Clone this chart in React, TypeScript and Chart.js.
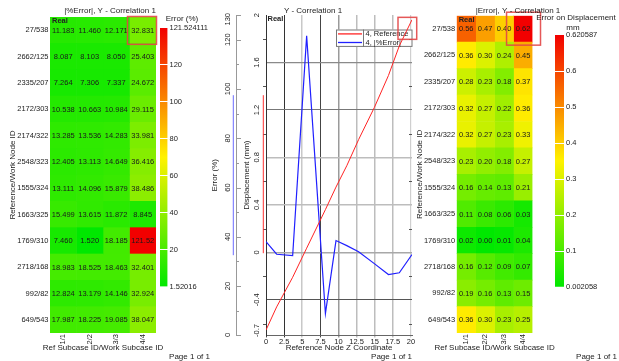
import React, { useEffect, useRef } from "react";
import { Chart, registerables } from "chart.js";

Chart.register(...registerables);

const FONT = "'Liberation Sans', Arial, Helvetica, sans-serif";
Chart.defaults.font.family = FONT;
Chart.defaults.font.size = 7.5;
Chart.defaults.color = "#222";

// ---------------- data ----------------
const rowLabels = [
  "27/538", "2662/125", "2335/207", "2172/303", "2174/322", "2548/323",
  "1555/324", "1663/325", "1769/310", "2718/168", "992/82", "649/543",
];
const colLabels = ["1/1", "2/2", "3/3", "4/4"];

// |%Error| per subcase (rows in rowLabels order)
const pctErr11 = [11.183, 8.087, 7.264, 10.538, 13.285, 12.405, 13.111, 15.499, 7.46, 18.983, 12.824, 17.987];
const pctErr22 = [11.46, 8.103, 7.306, 10.663, 13.536, 13.113, 14.096, 13.615, 1.52016, 18.525, 13.179, 18.225];
const pctErr33 = [12.171, 8.05, 7.337, 10.984, 14.283, 14.649, 15.879, 11.872, 18.185, 18.463, 14.146, 19.085];
const pctErr44 = [32.831, 25.403, 24.672, 29.115, 33.981, 36.416, 38.486, 8.845, 121.524111, 32.401, 32.924, 38.047];

// |Error| (mm) per subcase
const absErr11 = [0.56, 0.36, 0.28, 0.32, 0.32, 0.23, 0.16, 0.11, 0.02, 0.16, 0.19, 0.36];
const absErr22 = [0.47, 0.3, 0.23, 0.27, 0.27, 0.2, 0.14, 0.08, 0.002058, 0.12, 0.16, 0.3];
const absErr33 = [0.4, 0.24, 0.18, 0.22, 0.23, 0.18, 0.13, 0.06, 0.01, 0.09, 0.13, 0.23];
const absErr44 = [0.620587, 0.45, 0.37, 0.36, 0.33, 0.27, 0.21, 0.03, 0.04, 0.07, 0.15, 0.25];

// colour bar band limits
const pctBandTicks = [1.52016, 20, 40, 60, 80, 100, 120, 121.524111];
const absBandTicks = [0.002058, 0.1, 0.2, 0.3, 0.4, 0.5, 0.6, 0.620587];

// line chart (subcase 4) sorted by Z
const nodeZ = [0, 1.47, 3.68, 5.61, 8.2, 9.66, 11.15, 12.78, 14.95, 16.9, 18.4, 20.15];
const refDisp4 = [-0.655, -0.46, -0.21, 0.035, 0.36, 0.55, 0.73, 0.95, 1.22, 1.49, 1.74, 1.96];
const pctErrByZ4 = [38.047, 32.924, 32.401, 121.524111, 8.845, 38.486, 36.416, 33.981, 29.115, 24.672, 25.403, 32.831];

const zTicks = [0, 2.5, 5, 7.5, 10, 12.5, 15, 17.5, 20];
const errTicks = [0, 20, 40, 60, 80, 100, 120, 130];
const errMinor = [10, 30, 50, 70, 90, 110];
const dispTicks = [-0.7, -0.4, 0, 0.4, 0.8, 1.2, 1.6, 2];
const dispMinor = [-0.6, -0.2, 0.2, 0.6, 1.0, 1.4, 1.8];

// ---------------- helpers ----------------
const RAMP: [number, number[]][] = [
  [0, [0, 232, 0]],
  [0.5, [255, 242, 0]],
  [1, [242, 0, 0]],
];
function ramp(t: number) {
  t = Math.max(0, Math.min(1, t));
  for (let i = 0; i < RAMP.length - 1; i++) {
    const [t0, c0] = RAMP[i];
    const [t1, c1] = RAMP[i + 1];
    if (t <= t1) {
      const f = (t - t0) / (t1 - t0);
      const c = c0.map((v, k) => Math.round(v + (c1[k] - v) * f));
      return `rgb(${c[0]},${c[1]},${c[2]})`;
    }
  }
  return "rgb(242,0,0)";
}
function bandPos(v: number, bands: number[]) {
  const n = bands.length - 1;
  for (let i = 0; i < n; i++) {
    if (v <= bands[i + 1] || i === n - 1) {
      const f = Math.max(0, Math.min(1, (v - bands[i]) / (bands[i + 1] - bands[i])));
      return (i + f) / n;
    }
  }
  return 1;
}

function txt(
  ctx: CanvasRenderingContext2D,
  s: string,
  x: number,
  y: number,
  o: { size?: number; bold?: boolean; align?: CanvasTextAlign; color?: string; rot?: number } = {}
) {
  ctx.save();
  ctx.font = `${o.bold ? "bold " : ""}${o.size ?? 8}px ${FONT}`;
  ctx.fillStyle = o.color ?? "#222";
  ctx.textAlign = o.align ?? "left";
  ctx.textBaseline = "middle";
  ctx.translate(x, y);
  if (o.rot) ctx.rotate(o.rot);
  ctx.fillText(s, 0, 0);
  ctx.restore();
}

function redBox(ctx: CanvasRenderingContext2D, l: number, t: number, r: number, b: number) {
  ctx.save();
  ctx.strokeStyle = "rgba(226,70,70,0.9)";
  ctx.lineWidth = 1.5;
  ctx.strokeRect(l, t, r - l, b - t);
  ctx.restore();
}

// ---------------- heatmap ----------------
function heatmapConfig(o: {
  columns: number[][];
  bands: number[];
  fmt: (v: number) => string;
  pad: { left: number; right: number; top: number; bottom: number };
  yWidth: number;
  xHeight: number;
  yTitlePad: number;
  title: string;
  titleX: number;
  box: { l: number; t: number; r: number; b: number };
  pageRight: number;
}): any {
  return {
    type: "bar",
    data: {
      labels: rowLabels,
      datasets: o.columns.map((vals, c) => ({
        label: colLabels[c],
        data: rowLabels.map(() => [c, c + 1]),
        backgroundColor: vals.map((v) => ramp(bandPos(v, o.bands))),
        borderWidth: 0,
        barPercentage: 1,
        categoryPercentage: 1,
        grouped: false,
      })),
    },
    options: {
      indexAxis: "y",
      animation: false,
      responsive: false,
      devicePixelRatio: 1,
      layout: { padding: o.pad },
      plugins: { legend: { display: false }, tooltip: { enabled: false }, title: { display: false } },
      scales: {
        x: {
          type: "linear",
          min: 0,
          max: colLabels.length,
          afterBuildTicks: (s: any) => {
            s.ticks = colLabels.map((_, i) => ({ value: i + 0.5 }));
          },
          afterFit: (s: any) => {
            s.height = o.xHeight;
          },
          ticks: {
            autoSkip: false,
            minRotation: 90,
            maxRotation: 90,
            padding: 1,
            color: "#222",
            callback: (_v: any, i: number) => colLabels[i],
          },
          grid: { display: false, drawTicks: false },
          border: { display: false },
          title: { display: false },
        },
        y: {
          type: "category",
          afterFit: (s: any) => {
            s.width = o.yWidth;
          },
          ticks: { padding: 1.5, color: "#222" },
          grid: { display: false, drawTicks: false },
          border: { display: false },
          title: {
            display: true,
            text: "Reference/Work Node ID",
            font: { size: 8 },
            color: "#222",
            padding: { top: o.yTitlePad, bottom: 0 },
          },
        },
      },
    },
    plugins: [
      {
        id: "heatExtras",
        afterDatasetsDraw(chart: any) {
          const ctx = chart.ctx as CanvasRenderingContext2D;
          o.columns.forEach((vals, c) => {
            const meta = chart.getDatasetMeta(c);
            meta.data.forEach((el: any, r: number) => {
              const p = el.getProps(["x", "y", "base"], true);
              txt(ctx, o.fmt(vals[r]), (p.x + p.base) / 2, p.y + 0.5, { size: 7.5, align: "center", color: "#1a1a1a" });
            });
          });
          const ca = chart.chartArea;
          txt(ctx, "Real", ca.left + 2, ca.top + 4, { size: 7.5, bold: true });
        },
        afterDraw(chart: any) {
          const ctx = chart.ctx as CanvasRenderingContext2D;
          const ca = chart.chartArea;
          const el = chart.getDatasetMeta(3).data[0];
          const p = el.getProps(["x", "y", "base", "height"], true);
          redBox(ctx, p.base + o.box.l, p.y - p.height / 2 + o.box.t, p.x + o.box.r, p.y + p.height / 2 + o.box.b);
          txt(ctx, o.title, o.titleX, 11, { size: 8, align: "center" });
          txt(ctx, "Ref Subcase ID/Work Subcase ID", (ca.left + ca.right) / 2, 347.3, { size: 8, align: "center" });
          txt(ctx, "Page 1 of 1", o.pageRight, 357, { size: 8, align: "right" });
        },
      },
    ],
  };
}

// ---------------- colour bar ----------------
function colorbarConfig(o: {
  bands: number[];
  pad: { left: number; right: number; top: number; bottom: number };
  barWidth: number;
  titles: { text: string; x: number; y: number }[];
}): any {
  const n = o.bands.length - 1;
  return {
    type: "bar",
    data: {
      labels: [""],
      datasets: [
        {
          data: [[0, n]],
          backgroundColor: (c: any) => {
            const ca = c.chart.chartArea;
            if (!ca) return ramp(0);
            const g = c.chart.ctx.createLinearGradient(0, ca.bottom, 0, ca.top);
            RAMP.forEach(([t]) => g.addColorStop(t, ramp(t)));
            return g;
          },
          borderWidth: 0,
          barPercentage: 1,
          categoryPercentage: 1,
        },
      ],
    },
    options: {
      animation: false,
      responsive: false,
      devicePixelRatio: 1,
      layout: { padding: o.pad },
      plugins: { legend: { display: false }, tooltip: { enabled: false } },
      scales: {
        x: { display: false },
        y: {
          position: "right",
          min: 0,
          max: n,
          afterBuildTicks: (s: any) => {
            s.ticks = o.bands.map((_, i) => ({ value: i }));
          },
          afterFit: (s: any) => {
            s.width = (s.chart.width as number) - o.pad.left - o.pad.right - o.barWidth;
          },
          ticks: { padding: 2, color: "#222", callback: (_v: any, i: number) => String(o.bands[i]) },
          grid: {
            z: 1,
            drawTicks: false,
            lineWidth: 1,
            color: (c: any) => (c.index > 0 && c.index < n ? "#ffffff" : "rgba(0,0,0,0)"),
          },
          border: { display: false },
        },
      },
    },
    plugins: [
      {
        id: "cbTitle",
        afterDraw(chart: any) {
          o.titles.forEach((t) => txt(chart.ctx, t.text, t.x, t.y, { size: 8, align: "center" }));
        },
      },
    ],
  };
}

// ---------------- line chart ----------------
const xGridColor = ["#444", "#333", "#c8c8c8", "#444", "#9a9a9a", "#bdbdbd", "#bdbdbd", "#bdbdbd", "#cfcfcf"];
const xGridWidth = [1, 1, 1.5, 1, 1.5, 1.5, 1.5, 1.5, 1.2];
const yGridColor = ["#666", "#555", "#a8a8a8", "#bdbdbd", "#bdbdbd", "#777", "#8a8a8a", "rgba(0,0,0,0)"];
const yGridWidth = [1, 1, 1.5, 1.5, 1.5, 1, 1.3, 1];

function lineConfig(): any {
  return {
    type: "line",
    data: {
      datasets: [
        {
          label: "4, Reference",
          data: nodeZ.map((z, i) => ({ x: z, y: refDisp4[i] })),
          yAxisID: "disp",
          borderColor: "#ff2424",
          backgroundColor: "#ff2424",
          borderWidth: 1,
          pointRadius: 0,
          tension: 0,
        },
        {
          label: "4, |%Error|",
          data: nodeZ.map((z, i) => ({ x: z, y: pctErrByZ4[i] })),
          yAxisID: "err",
          borderColor: "#2020ff",
          backgroundColor: "#2020ff",
          borderWidth: 1.2,
          pointRadius: 0,
          tension: 0,
        },
      ],
    },
    options: {
      animation: false,
      responsive: false,
      devicePixelRatio: 1,
      layout: { padding: { left: 0, right: 8, top: 15, bottom: 8 } },
      plugins: { legend: { display: false }, tooltip: { enabled: false }, title: { display: false } },
      scales: {
        x: {
          type: "linear",
          min: 0,
          max: 20.15,
          afterBuildTicks: (s: any) => {
            s.ticks = zTicks.map((v) => ({ value: v }));
          },
          afterFit: (s: any) => {
            s.height = 17.6;
          },
          ticks: { padding: 0, maxRotation: 0, color: "#222", callback: (v: any) => String(v) },
          grid: {
            tickLength: 2,
            color: (c: any) => xGridColor[c.index] ?? "#bbb",
            lineWidth: (c: any) => xGridWidth[c.index] ?? 1,
          },
          border: { display: true, color: "#666" },
          title: { display: true, text: "Reference Node Z Coordinate", font: { size: 8 }, padding: 0, color: "#222" },
        },
        err: {
          type: "linear",
          position: "left",
          weight: 2,
          min: 0,
          max: 130,
          afterFit: (s: any) => {
            s.width = 36;
          },
          ticks: { display: false },
          grid: { display: false, drawTicks: false },
          border: { display: true, color: "#999" },
          title: { display: true, text: "Error (%)", font: { size: 8 }, color: "#222", padding: { top: 10.2, bottom: 0 } },
        },
        disp: {
          type: "linear",
          position: "left",
          weight: 1,
          min: -0.7,
          max: 2,
          afterBuildTicks: (s: any) => {
            s.ticks = dispTicks.map((v) => ({ value: v }));
          },
          afterFit: (s: any) => {
            s.width = 30;
          },
          ticks: { display: false },
          grid: {
            drawTicks: false,
            color: (c: any) => yGridColor[c.index] ?? "#bbb",
            lineWidth: (c: any) => yGridWidth[c.index] ?? 1,
          },
          border: { display: true, color: "#333" },
          title: {
            display: true,
            text: "Displacement (mm)",
            font: { size: 8 },
            color: "#222",
            padding: { top: 5.6, bottom: 0 },
          },
        },
      },
    },
    plugins: [
      {
        id: "lineExtras",
        beforeDatasetsDraw(chart: any) {
          // legend table
          const ctx = chart.ctx as CanvasRenderingContext2D;
          const ca = chart.chartArea;
          const W = 76.5;
          const H = 17.4;
          const L = ca.right - W + 0.5;
          const T = ca.top + 14.5;
          ctx.save();
          ctx.fillStyle = "#fff";
          ctx.fillRect(L, T, W, H);
          ctx.strokeStyle = "#777";
          ctx.lineWidth = 1;
          ctx.strokeRect(L + 0.5, T + 0.5, W - 1, H - 1);
          ctx.beginPath();
          ctx.moveTo(L + 27.5, T);
          ctx.lineTo(L + 27.5, T + H);
          ctx.stroke();
          chart.data.datasets.forEach((ds: any, i: number) => {
            const cy = T + 4.4 + i * 8.6;
            ctx.strokeStyle = ds.borderColor;
            ctx.lineWidth = 1.3;
            ctx.beginPath();
            ctx.moveTo(L + 2, cy);
            ctx.lineTo(L + 26, cy);
            ctx.stroke();
            txt(ctx, ds.label, L + 29.5, cy + 0.3, { size: 7.5 });
          });
          ctx.restore();
        },
        afterDraw(chart: any) {
          const ctx = chart.ctx as CanvasRenderingContext2D;
          const ca = chart.chartArea;
          const err = chart.scales.err;
          const disp = chart.scales.disp;
          ctx.save();
          ctx.lineWidth = 1;
          // err axis ticks (pointing right)
          ctx.strokeStyle = "#999";
          ctx.beginPath();
          errTicks.forEach((v) => {
            const y = Math.round(err.getPixelForValue(v)) + 0.5;
            ctx.moveTo(err.right, y);
            ctx.lineTo(err.right + 5, y);
          });
          errMinor.forEach((v) => {
            const y = Math.round(err.getPixelForValue(v)) + 0.5;
            ctx.moveTo(err.right, y);
            ctx.lineTo(err.right + 3, y);
          });
          ctx.stroke();
          // disp minor ticks
          ctx.strokeStyle = "#555";
          ctx.beginPath();
          dispMinor.forEach((v) => {
            const y = Math.round(disp.getPixelForValue(v)) + 0.5;
            ctx.moveTo(ca.left - 3, y);
            ctx.lineTo(ca.left, y);
            ctx.moveTo(ca.right - 3, y);
            ctx.lineTo(ca.right, y);
          });
          ctx.stroke();
          // axis colour indicators
          const cy = (ca.top + ca.bottom) / 2;
          ctx.strokeStyle = "#6c6cff";
          ctx.beginPath();
          ctx.moveTo(err.right - 2.7, cy - 80);
          ctx.lineTo(err.right - 2.7, cy + 80);
          ctx.stroke();
          ctx.strokeStyle = "#ff3030";
          ctx.beginPath();
          ctx.moveTo(disp.right - 2.7, cy - 80);
          ctx.lineTo(disp.right - 2.7, cy + 78);
          ctx.stroke();
          ctx.restore();

          // rotated tick labels
          const label = (s: string, x: number, y: number) => {
            ctx.save();
            ctx.font = `7.5px ${FONT}`;
            const half = ctx.measureText(s).width / 2;
            ctx.restore();
            const yc = Math.min(Math.max(y, ca.top - 2 + half), ca.bottom + 1.5 - half);
            txt(ctx, s, x, yc, { size: 7.5, align: "center", rot: -Math.PI / 2 });
          };
          errTicks.forEach((v) => label(String(v), err.right - 8.3, err.getPixelForValue(v)));
          dispTicks.forEach((v) => label(String(v), disp.right - 9.3, disp.getPixelForValue(v)));

          // titles & annotations
          txt(ctx, "Y - Correlation 1", 113, 11, { size: 8, align: "center" });
          txt(ctx, "Real", ca.left + 1.5, ca.top + 3.8, { size: 7.5, bold: true });
          txt(ctx, "Page 1 of 1", 212, 357, { size: 8, align: "right" });
          const last = chart.getDatasetMeta(0).data[nodeZ.length - 1];
          redBox(ctx, last.x - 14, last.y - 2.4, last.x + 4.7, last.y + 19.6);
        },
      },
    ],
  };
}

const fmtPct = (v: number) => v.toFixed(3).slice(0, 6);
const fmtAbs = (v: number) => v.toFixed(2);

export default function App() {
  const hmL = useRef<HTMLCanvasElement>(null);
  const cbL = useRef<HTMLCanvasElement>(null);
  const mid = useRef<HTMLCanvasElement>(null);
  const hmR = useRef<HTMLCanvasElement>(null);
  const cbR = useRef<HTMLCanvasElement>(null);

  useEffect(() => {
    const charts: Chart[] = [];
    charts.push(
      new Chart(
        hmL.current!,
        heatmapConfig({
          columns: [pctErr11, pctErr22, pctErr33, pctErr44],
          bands: pctBandTicks,
          fmt: fmtPct,
          pad: { left: 0, right: 56, top: 17, bottom: 9 },
          yWidth: 50,
          xHeight: 19,
          yTitlePad: 8,
          title: "|%Error|, Y - Correlation 1",
          titleX: 110,
          box: { l: -2, t: -0.5, r: 0.5, b: 1 },
          pageRight: 210,
        })
      )
    );
    charts.push(
      new Chart(
        cbL.current!,
        colorbarConfig({
          bands: pctBandTicks,
          pad: { left: 2, right: 0, top: 28, bottom: 74.3 },
          barWidth: 7.5,
          titles: [{ text: "Error (%)", x: 24, y: 19 }],
        })
      )
    );
    charts.push(new Chart(mid.current!, lineConfig()));
    charts.push(
      new Chart(
        hmR.current!,
        heatmapConfig({
          columns: [absErr11, absErr22, absErr33, absErr44],
          bands: absBandTicks,
          fmt: fmtAbs,
          pad: { left: 0, right: 86.5, top: 15.7, bottom: 9 },
          yWidth: 46.7,
          xHeight: 19,
          yTitlePad: 4.5,
          title: "|Error|, Y - Correlation 1",
          titleX: 108,
          box: { l: -7, t: -3.5, r: 8, b: 3 },
          pageRight: 207,
        })
      )
    );
    charts.push(
      new Chart(
        cbR.current!,
        colorbarConfig({
          bands: absBandTicks,
          pad: { left: 25, right: 0, top: 35, bottom: 74 },
          barWidth: 9,
          titles: [
            { text: "Error on Displacement", x: 46, y: 18 },
            { text: "mm", x: 43, y: 27.5 },
          ],
        })
      )
    );
    return () => charts.forEach((c) => c.destroy());
  }, []);

  const cs = (left: number, width: number): React.CSSProperties => ({
    position: "absolute",
    left,
    top: 0,
    width,
    height: 361,
  });

  return (
    <div style={{ position: "absolute", left: 0, top: 0, width: 619, height: 361, background: "#fff", overflow: "hidden" }}>
      <canvas ref={hmL} width={212} height={361} style={cs(0, 212)} />
      <canvas ref={cbL} width={60} height={361} style={cs(158, 60)} />
      <canvas ref={mid} width={220} height={361} style={cs(200, 220)} />
      <canvas ref={hmR} width={209} height={361} style={cs(410, 209)} />
      <canvas ref={cbR} width={89} height={361} style={cs(530, 89)} />
    </div>
  );
}
